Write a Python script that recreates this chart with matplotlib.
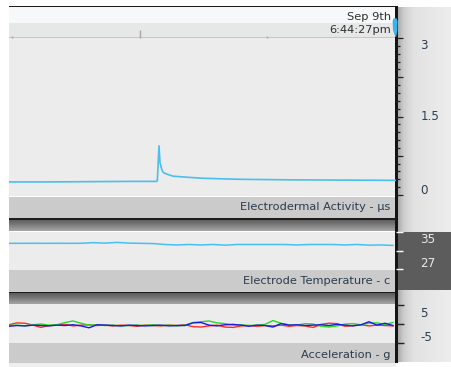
import numpy as np
import matplotlib
matplotlib.use("Agg")
import matplotlib.pyplot as plt
import matplotlib.ticker as mticker
from matplotlib.colors import LinearSegmentedColormap
from matplotlib.patches import Rectangle, Polygon

# ---------------- data ----------------
# time axis in seconds across the visible window
eda_t = [0, 40, 80, 120, 147.5, 148.3, 150.0, 151.0, 152.7, 154.3, 157.7,
         164.0, 177.7, 194.0, 211.0, 231.0, 280.0, 330.0, 387.0]
eda_us = [0.25, 0.25, 0.255, 0.26, 0.26, 0.27, 0.94, 0.62, 0.49, 0.43, 0.40,
          0.36, 0.34, 0.32, 0.31, 0.30, 0.29, 0.285, 0.28]

temp_t = [0, 12, 24, 36, 48, 60, 72, 84, 96, 108, 120, 132, 144, 156, 168, 180,
          192, 204, 216, 228, 240, 252, 264, 276, 288, 300, 312, 324, 336, 348,
          360, 372, 384]
temp_c = [32.55, 32.55, 32.56, 32.55, 32.56, 32.55, 32.56, 32.70, 32.60, 32.75,
          32.60, 32.55, 32.50, 32.30, 32.20, 32.30, 32.20, 32.30, 32.15, 32.30,
          32.30, 32.30, 32.30, 32.30, 32.20, 32.30, 32.30, 32.30, 32.20, 32.30,
          32.15, 32.20, 32.10]

acc_t = [0, 8, 16, 24, 32, 40, 48, 56, 64, 72, 80, 88, 96, 104, 112, 120, 128,
         136, 144, 152, 160, 168, 176, 184, 192, 200, 208, 216, 224, 232, 240,
         248, 256, 264, 272, 280, 288, 296, 304, 312, 320, 328, 336, 344, 352,
         360, 368, 376, 384]
acc_x = [-0.2, 0.3, 0.2, -0.3, -0.9, -0.4, -0.2, -0.1, -0.5, -0.3, -0.2, -0.4,
         -0.3, -0.5, -0.3, -0.4, -0.6, -0.3, -0.4, -0.5, -0.3, -0.4, -0.2, -0.7,
         -0.8, -0.5, -0.3, -0.8, -0.9, -0.5, -0.4, -0.6, -0.4, -0.5, -0.3, -0.6,
         -0.4, -0.5, -0.9, -0.1, 0.2, 0.1, -0.6, -0.4, -0.2, -0.5, -0.3, -0.4, -0.5]
acc_y = [-0.4, -0.3, -0.5, -0.2, 0.0, -0.3, -0.2, 0.4, 0.8, 0.2, -0.3, -0.2,
         -0.4, -0.3, -0.5, -0.4, -0.3, -0.4, -0.2, -0.4, -0.3, -0.5, -0.3, 0.4,
         0.6, 0.8, 0.3, 0.1, -0.3, -0.2, -0.4, -0.3, -0.1, 0.9, 0.2, -0.2,
         -0.3, 0.1, 0.0, -0.6, -0.8, -0.5, 0.0, 0.1, -0.2, 0.2, 0.3, -0.1, 0.4]
acc_z = [-0.6, -0.4, -0.5, -0.3, -0.4, -0.5, -0.3, -0.4, -0.2, -0.5, -1.0, -0.2,
         -0.3, -0.4, -0.5, -0.3, -0.4, -0.5, -0.4, -0.3, -0.5, -0.4, -0.4, 0.3,
         0.4, -0.3, -0.5, -0.2, -0.1, -0.3, -0.6, -0.3, -0.4, -0.8, 0.1, -0.3,
         -0.2, -0.4, -0.3, -0.2, -0.4, -0.1, -0.3, -0.5, -0.2, 0.6, -0.3, 0.2, -0.4]

date_label = "Sep 9th"
time_label = "6:44:27pm"
eda_ticklabels = [(3, "3", -11), (1.5, "1.5", -4), (0, "0", 1)]
temp_ticklabels = [(35, "35", -11), (27, "27", 2)]
acc_ticklabels = [(5, "5", -12), (-5, "-5", 2)]

# ---------------- layout ----------------
W, H = 451, 367
fig = plt.figure(figsize=(W / 100, H / 100), dpi=100)
fig.patch.set_facecolor("white")


def box(x0, y0, x1, y1):
    return [x0 / W, 1 - y1 / H, (x1 - x0) / W, (y1 - y0) / H]


bg = fig.add_axes([0, 0, 1, 1], zorder=0)
bg.axis("off")

PANEL = "#ececec"
BAND = "#cbcbcb"
TXT = "#2b3c4c"
FS = 8.2

# header strip
bg.add_patch(Rectangle((9, 7), 387, 16, color="#f7f8f9", lw=0))
bg.add_patch(Rectangle((9, 23), 387, 14.5, color="#e6e7e7", lw=0))
bg.add_patch(Rectangle((9, 36.8), 387, 1.6, color="#c6c6c6", lw=0))
bg.add_patch(Rectangle((9, 5.6), 387, 1.8, color="#1a1a1a", lw=0))

# panels and label bands
bg.add_patch(Rectangle((9, 38.4), 387, 158, color=PANEL, lw=0))
bg.add_patch(Rectangle((9, 196.5), 387, 22, color=BAND, lw=0))
bg.add_patch(Rectangle((9, 231.5), 387, 38, color=PANEL, lw=0))
bg.add_patch(Rectangle((9, 269.5), 387, 22.3, color=BAND, lw=0))
bg.add_patch(Rectangle((9, 304), 387, 39, color=PANEL, lw=0))
bg.add_patch(Rectangle((9, 343), 387, 19.7, color=BAND, lw=0))
bg.add_patch(Rectangle((9, 362.7), 387, 5, color="#efefef", lw=0))

sep_cmap = LinearSegmentedColormap.from_list("sep", ["#4e4e4e", "#767676", "#a6a6a6"])
grad_v = np.linspace(0, 1, 64).reshape(-1, 1)
for top, bot in [(218.3, 231.5), (291.7, 304.0)]:
    bg.imshow(grad_v, cmap=sep_cmap, extent=(9, 396, bot, top), aspect="auto",
              interpolation="bilinear")
    bg.add_patch(Rectangle((9, top), 387, 1.4, color="#1c1c1c", lw=0))

# right scale column
side_cmap = LinearSegmentedColormap.from_list(
    "side", [(0, "#a4a4a4"), (0.12, "#cdcdcd"), (0.3, "#e2e2e2"), (1, "#ededed")])
grad_h = np.linspace(0, 1, 128).reshape(1, -1)
bg.imshow(grad_h, cmap=side_cmap, extent=(397, 451, 362.5, 8), aspect="auto",
          interpolation="bilinear")
bg.add_patch(Rectangle((397, 231.8), 54, 58.2, color="#5c5c5c", lw=0))
bg.add_patch(Rectangle((395.4, 6), 2.1, 356.7, color="#141414", lw=0))

# cursor marker
bg.add_patch(Polygon([(392.6, 21), (393.6, 18.3), (396.6, 18.3), (397.6, 21),
                      (397.4, 30), (396.2, 36.8), (395.2, 36.8), (393.0, 30)],
                     closed=True, color="#3ab4ec", lw=0))

# texts
bg.text(391.5, 20, date_label, ha="right", va="baseline", fontsize=FS, color="#303030")
bg.text(391.5, 33.3, time_label, ha="right", va="baseline", fontsize=FS, color="#303030")
bg.text(390.5, 210.5, "Electrodermal Activity - µs", ha="right", va="baseline",
        fontsize=FS, color=TXT)
bg.text(390.5, 283.5, "Electrode Temperature - c", ha="right", va="baseline",
        fontsize=FS, color=TXT)
bg.text(390.5, 357.5, "Acceleration - g", ha="right", va="baseline",
        fontsize=FS, color=TXT)

bg.set_xlim(0, W)
bg.set_ylim(H, 0)

PX = 0.72  # points per pixel


def panel(y0, y1):
    ax = fig.add_axes(box(9, y0, 396, y1), zorder=2)
    ax.set_facecolor("none")
    for s in ax.spines.values():
        s.set_visible(False)
    ax.set_xlim(0, 387)
    ax.tick_params(axis="x", which="both", bottom=False, labelbottom=False)
    ax.tick_params(axis="y", which="both", left=False, labelleft=False,
                   right=True, labelright=False, direction="out")
    return ax


def scale_labels(ax, items, color):
    for val, lab, dy in items:
        ax.annotate(lab, xy=(1, val), xycoords=("axes fraction", "data"),
                    xytext=(24.5, dy), textcoords="offset pixels",
                    ha="left", va="baseline", fontsize=8.6, color=color,
                    annotation_clip=False)


# header time axis
hx = fig.add_axes(box(9, 7, 396, 37.5), zorder=2)
hx.set_facecolor("none")
for s in hx.spines.values():
    s.set_visible(False)
hx.set_xlim(0, 387)
hx.xaxis.set_major_locator(mticker.FixedLocator([131]))
hx.xaxis.set_minor_locator(mticker.FixedLocator([3.3, 257.7]))
hx.tick_params(axis="x", which="both", direction="in", labelbottom=False,
               color="#a6a6a6", width=1.0)
hx.tick_params(axis="x", which="major", length=8 * PX)
hx.tick_params(axis="x", which="minor", length=2.5 * PX)
hx.tick_params(axis="y", left=False, labelleft=False)

# electrodermal activity
ax1 = panel(38, 195)
ax1.set_ylim(0, 3)
ax1.plot(eda_t, eda_us, color="#48bff0", lw=1.2, solid_joinstyle="round")
ax1.yaxis.set_major_locator(mticker.FixedLocator([0, 0.75, 1.5, 2.25, 3]))
ax1.yaxis.set_minor_locator(mticker.MultipleLocator(0.15))
ax1.tick_params(axis="y", which="major", length=7 * PX, width=0.9, color="#222222")
ax1.tick_params(axis="y", which="minor", length=4 * PX, width=0.9, color="#222222")
scale_labels(ax1, eda_ticklabels, "#2d3e50")

# electrode temperature
ax2 = panel(232, 269)
ax2.set_ylim(27, 35)
ax2.plot(temp_t, temp_c, color="#48bff0", lw=1.1)
ax2.yaxis.set_major_locator(mticker.FixedLocator([27, 31, 35]))
ax2.yaxis.set_minor_locator(mticker.NullLocator())
ax2.tick_params(axis="y", which="major", length=7 * PX, width=1.0, color="white")
scale_labels(ax2, temp_ticklabels, "#e8e8e8")

# acceleration
ax3 = panel(305, 343)
ax3.set_ylim(-5, 5)
ax3.plot(acc_t, acc_x, color="#ff2a2a", lw=1.0)
ax3.plot(acc_t, acc_y, color="#22dd22", lw=1.0)
ax3.plot(acc_t, acc_z, color="#1a1ae6", lw=1.0)
ax3.yaxis.set_major_locator(mticker.FixedLocator([-5, 0, 5]))
ax3.yaxis.set_minor_locator(mticker.NullLocator())
ax3.tick_params(axis="y", which="major", length=8 * PX, width=1.0, color="#222222")
scale_labels(ax3, acc_ticklabels, "#2d3e50")

fig.savefig("out.png", dpi=100)
